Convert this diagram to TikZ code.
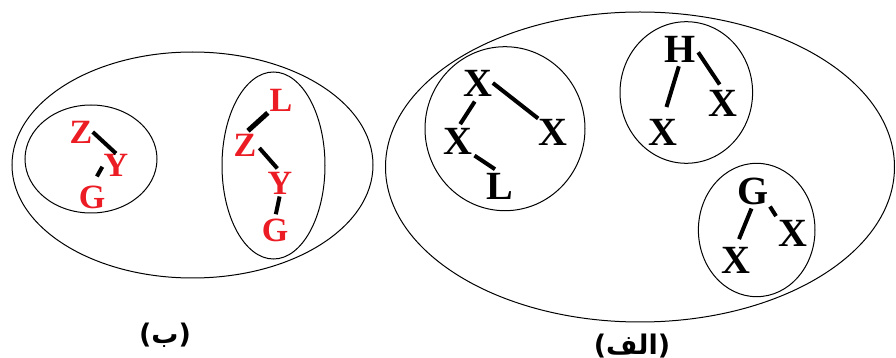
\documentclass[tikz,border=0pt]{standalone}
\usepackage{fontspec}
\setmainfont{Liberation Serif}
\TeXXeTstate=1
\newfontfamily\arabicfont[Script=Arabic]{DejaVu Sans}
\definecolor{letred}{RGB}{236,28,36}
\begin{document}
\begin{tikzpicture}[x=0.5pt, y=-0.5pt,
  bag/.style={line width=0.5pt},
  branch/.style={line width=2pt},
  blk/.style={inner sep=0pt, font=\fontsize{20}{20}\selectfont\bfseries},
  rd/.style={inner sep=0pt, text=letred, font=\fontsize{17}{17}\selectfont\bfseries},
  captext/.style={inner sep=0pt, font=\fontsize{13.5}{13.5}\selectfont\arabicfont\bfseries}]
\useasboundingbox (0,0) rectangle (896,358);
% outer bags
\draw[bag] (192.5,165) ellipse [x radius=180.5, y radius=113];
\draw[bag] (640,167) ellipse [x radius=254.5, y radius=155];
% inner bags of (b)
\draw[bag] (91,159) ellipse [x radius=66, y radius=54];
\draw[bag] (273.5,165.5) ellipse [x radius=51.5, y radius=93.5];
% inner bags of (alef)
\draw[bag] (505,128.7) ellipse [x radius=80, y radius=82];
\draw[bag] (686.3,92.5) ellipse [x radius=66.3, y radius=70.8];
\draw[bag] (756.7,230) ellipse [x radius=58.3, y radius=66.7];
% red trees
\node[rd] (z1) at (81,132) {Z};
\node[rd] (y1) at (116,165) {Y};
\node[rd] (g1) at (92,197) {G};
\node[rd] (l2) at (281,100) {L};
\node[rd] (z2) at (245,145) {Z};
\node[rd] (y2) at (280,183) {Y};
\node[rd] (g2) at (275,230) {G};
\draw[branch] (z1.east) -- (y1.north);
\draw[branch, shorten <=1pt, shorten >=5pt] (y1.west) -- (g1.north);
\draw[branch, line width=2.5pt, shorten <=1pt, shorten >=2pt] (l2.south west) -- (z2.north);
\draw[branch, shorten <=2pt, shorten >=2pt] (z2.east) -- (y2.north);
\draw[branch, shorten <=1pt, shorten >=2pt] (y2.south) -- (g2.north);
% black trees
\node[blk] (xa) at (478,83) {X};
\node[blk] (xb) at (553,132) {X};
\node[blk] (xc) at (458,141) {X};
\node[blk] (la) at (500,186) {L};
\node[blk] (ha) at (680,49) {H};
\node[blk] (xd) at (723,103) {X};
\node[blk] (xe) at (663,132) {X};
\node[blk] (ga) at (753,191) {G};
\node[blk] (xf) at (793,233) {X};
\node[blk] (xg) at (736,260) {X};
\draw[branch] (xa.east) -- (xb.north west);
\draw[branch, shorten <=3pt, shorten >=2pt] (xa.south) -- (xc.north);
\draw[branch, shorten <=1pt, shorten >=3pt] (xc.south east) -- (la.north);
\draw[branch, shorten <=2pt, shorten >=3pt] (ha.east) -- (xd.north);
\draw[branch, shorten <=2pt, shorten >=6pt] (ha.south) -- (xe.north);
\draw[branch, shorten <=1pt, shorten >=2pt] (ga.south east) -- (xf.north west);
\draw[branch, shorten <=2pt, shorten >=4pt] (ga.south) -- (xg.north);
% captions
\node[captext] (capb) at (165,335) {\beginR(ب)\endR};
\node[captext] (capa) at (632,346) {\beginR(الف)\endR};
\end{tikzpicture}
\end{document}
